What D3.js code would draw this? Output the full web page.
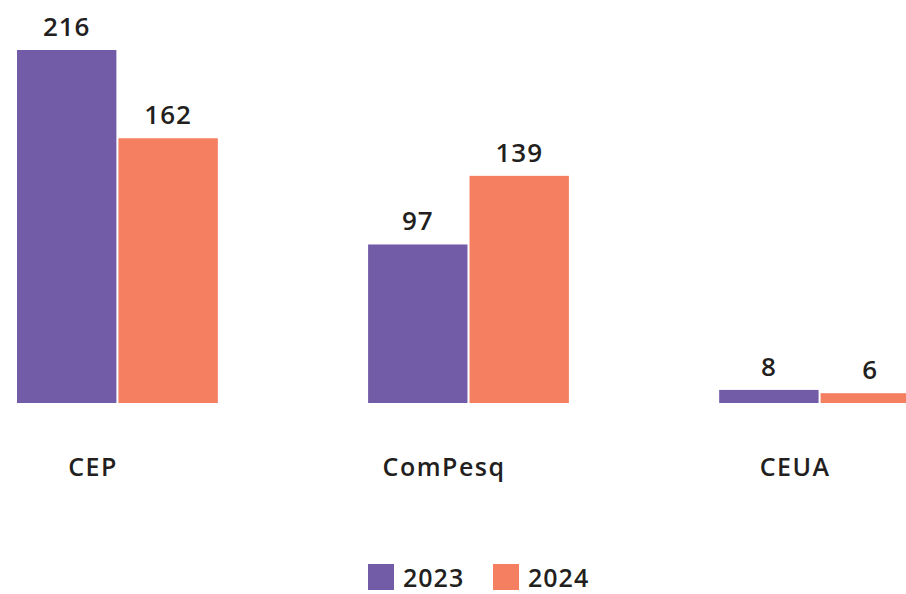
<!DOCTYPE html>
<html><head><meta charset="utf-8">
<script src="https://cdn.jsdelivr.net/npm/d3@7"></script>
<style>
html,body{margin:0;padding:0;background:#fff;overflow:hidden}
text{font-family:"Open Sans",Lato,sans-serif;fill:#231f20}
</style></head>
<body>
<svg id="c" width="906" height="594"></svg>
<script>
const categories = ["CEP", "ComPesq", "CEUA"];
const years = ["2023", "2024"];
const values2023 = [216, 97, 8];
const values2024 = [162, 139, 6];
const colors = ["#725ca7", "#f47f61"];

const svg = d3.select("#c");
const baseY = 403, topY = 50;
const x0 = d3.scaleBand().domain(categories).range([17, 920]).paddingInner(0.428).paddingOuter(0);
const x1 = d3.scaleBand().domain(years).range([0, x0.bandwidth()]).paddingInner(0.02);
const y = d3.scaleLinear().domain([0, 216]).range([baseY, topY]);
const color = d3.scaleOrdinal().domain(years).range(colors);

const data = categories.map((c, i) => ({cat: c, vals: [
  {year: years[0], v: values2023[i]},
  {year: years[1], v: values2024[i]}
]}));

const g = svg.selectAll("g.grp").data(data).join("g")
  .attr("transform", d => `translate(${x0(d.cat)},0)`);

g.selectAll("rect").data(d => d.vals).join("rect")
  .attr("x", d => x1(d.year))
  .attr("width", x1.bandwidth())
  .attr("y", d => y(d.v))
  .attr("height", d => baseY - y(d.v))
  .attr("fill", d => color(d.year));

g.selectAll("text.val").data(d => d.vals).join("text")
  .attr("class", "val")
  .attr("x", d => x1(d.year) + x1.bandwidth() / 2)
  .attr("y", d => y(d.v) - 14)
  .attr("text-anchor", "middle")
  .attr("font-size", 26)
  .attr("font-weight", 600)
  .attr("letter-spacing", 1)
  .text(d => d.v);

g.append("text")
  .attr("x", 76)
  .attr("y", 476)
  .attr("text-anchor", "middle")
  .attr("font-size", 25)
  .attr("font-weight", 600)
  .attr("letter-spacing", 1.5)
  .text(d => d.cat);

// legend
const legX = [368, 493];
const leg = svg.selectAll("g.leg").data(years).join("g")
  .attr("transform", (d, i) => `translate(${legX[i]},564)`);
leg.append("rect").attr("width", 26).attr("height", 26).attr("fill", d => color(d));
leg.append("text").attr("x", 35).attr("y", 23).attr("font-size", 25).attr("font-weight", 600)
  .attr("letter-spacing", 1).text(d => d);
</script>
</body></html>
